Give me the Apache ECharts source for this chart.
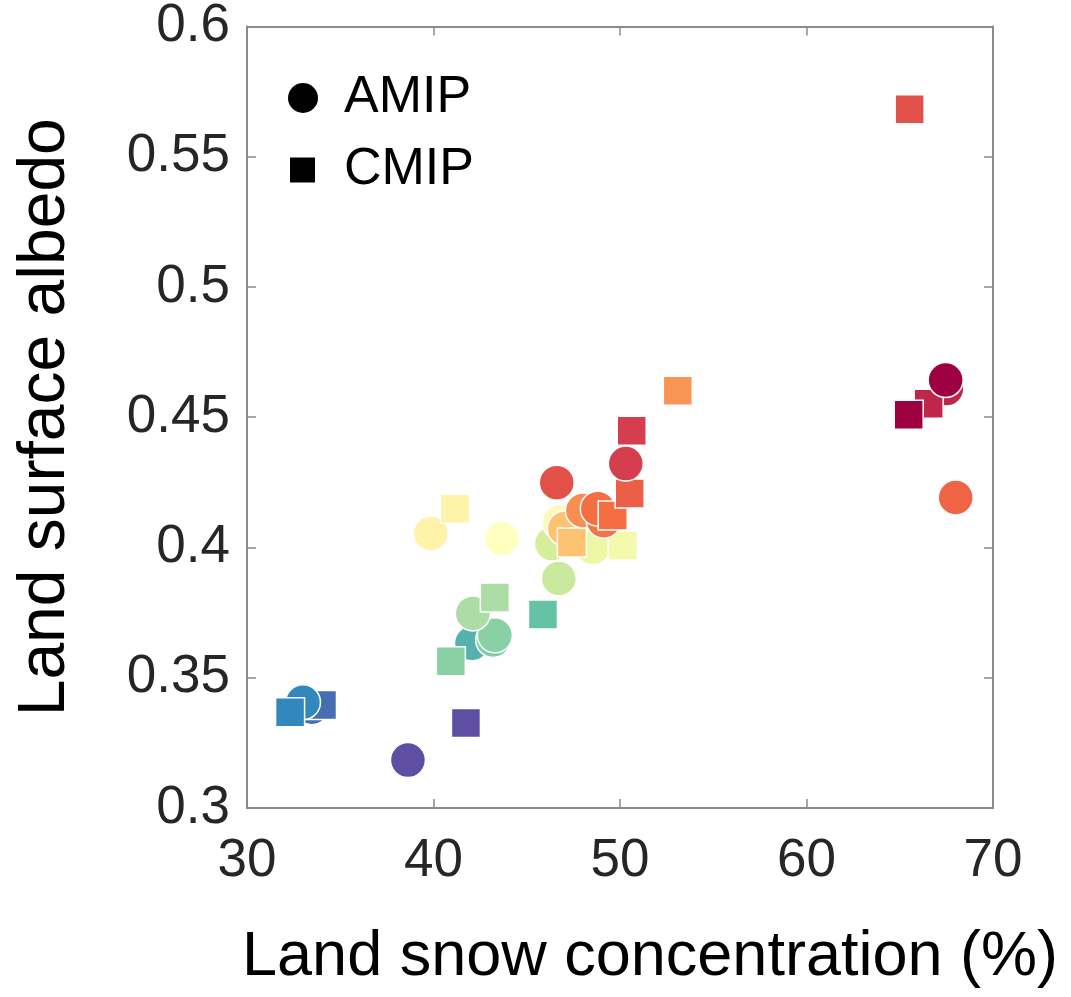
<!DOCTYPE html>
<html>
<head>
<meta charset="utf-8">
<script src="https://cdn.jsdelivr.net/npm/echarts@6/dist/echarts.min.js"></script>
<style>
  html, body { margin: 0; padding: 0; background: #ffffff; }
  #chart { width: 1071px; height: 997px; }
</style>
</head>
<body>
<div id="chart"></div>
<script>
// Axis ticks
const xTicks = [30, 40, 50, 60, 70];
const yTicks = [0.3, 0.35, 0.4, 0.45, 0.5, 0.55, 0.6];

// AMIP runs: snow concentration (%), albedo, position on the Spectral colour scale (0..10)
const amipX    = [38.63, 33.00, 33.48, 42.11, 43.29, 42.06, 43.20, 39.86, 43.67, 46.61, 50.31, 48.01, 48.81, 49.13, 47.04, 46.35, 48.54, 46.72, 67.46, 68.00, 67.50, 46.77];
const amipY    = [0.3184, 0.3406, 0.3387, 0.3747, 0.3663, 0.3632, 0.3645, 0.4054, 0.4034, 0.4249, 0.4322, 0.4142, 0.4149, 0.4103, 0.4073, 0.4015, 0.4000, 0.3881, 0.4643, 0.4192, 0.4610, 0.4096];
const amipRank = [0, 1, 0.55, 3, 2.5, 1.7, 2.4, 5.4, 5, 8.6, 9, 7.5, 8, 7.9, 6.6, 3.7, 4.3, 3.5, 10, 8.2, 9.4, 5.2];

// CMIP runs
const cmipX    = [32.31, 34.02, 41.74, 40.93, 43.29, 45.87, 41.15, 47.42, 50.15, 49.61, 50.52, 50.63, 53.10, 65.53, 65.48, 66.55];
const cmipY    = [0.3368, 0.3395, 0.3326, 0.3563, 0.3808, 0.3743, 0.4149, 0.4019, 0.4008, 0.4123, 0.4207, 0.4448, 0.4602, 0.5682, 0.4510, 0.4552];
const cmipRank = [1, 0.55, 0, 2.5, 3, 2, 5.4, 6.6, 4.5, 8, 8.3, 9, 7.4, 8.6, 10, 9.4];

// Spectral colour ramp, low to high
const spectral = ['#5e4fa2', '#3288bd', '#66c2a5', '#abdda4', '#e6f598', '#ffffbf',
                  '#fee08b', '#fdae61', '#f46d43', '#d53e4f', '#9e0142'];

const font = "'Liberation Sans', Arial, Helvetica, sans-serif";
const frameColor = '#8a8a8a';

// Stack the markers by colour rank so warmer models sit on top; circles go under squares of the same rank.
const items = [];
amipX.forEach((x, i) => items.push({ name: 'AMIP', shape: 'circle', size: 35, x, y: amipY[i], r: amipRank[i], k: 0 }));
cmipX.forEach((x, i) => items.push({ name: 'CMIP', shape: 'rect', size: 29, x, y: cmipY[i], r: cmipRank[i], k: 1 }));
items.sort((a, b) => (a.r - b.r) || (a.k - b.k));

const series = items.map(it => ({
  name: it.name,
  type: 'scatter',
  symbol: it.shape,
  symbolSize: it.size,
  xAxisIndex: 0,
  yAxisIndex: 0,
  itemStyle: { borderColor: '#ffffff', borderWidth: 1.5, opacity: 1 },
  emphasis: { disabled: true },
  data: [[it.x, it.y, it.r]]
}));

const xMin = xTicks[0], xMax = xTicks[xTicks.length - 1], xStep = xTicks[1] - xTicks[0];
const yMin = yTicks[0], yMax = yTicks[yTicks.length - 1], yStep = +(yTicks[1] - yTicks[0]).toFixed(2);

const baseAxis = {
  axisLine: { show: true, lineStyle: { color: frameColor, width: 2 } },
  axisTick: { show: true, inside: true, length: 9, lineStyle: { color: frameColor, width: 1.5 } },
  splitLine: { show: false }
};

const option = {
  backgroundColor: '#ffffff',
  animation: false,
  grid: { left: 247, right: 78, top: 25, bottom: 189 },
  visualMap: {
    show: false,
    type: 'continuous',
    dimension: 2,
    min: 0,
    max: 10,
    inRange: { color: spectral }
  },
  legend: [
    {
      data: [{ name: 'AMIP', icon: 'circle', itemStyle: { color: '#000000', borderWidth: 0 } }],
      left: 283, top: 67,
      itemWidth: 30, itemHeight: 30,
      selectedMode: false,
      textStyle: { fontSize: 52, fontFamily: font, color: '#000000', padding: [0, 0, 0, 21] }
    },
    {
      data: [{ name: 'CMIP', icon: 'rect', itemStyle: { color: '#000000', borderWidth: 0 } }],
      left: 285, top: 139,
      itemWidth: 25, itemHeight: 25,
      selectedMode: false,
      textStyle: { fontSize: 52, fontFamily: font, color: '#000000', padding: [0, 0, 0, 24] }
    }
  ],
  xAxis: [
    Object.assign({}, baseAxis, {
      type: 'value', position: 'bottom', min: xMin, max: xMax, interval: xStep,
      name: 'Land snow concentration (%)',
      nameLocation: 'middle', nameGap: 118,
      nameTextStyle: { fontSize: 63, fontFamily: font, color: '#000000', padding: [0, 0, 0, 60] },
      axisLabel: { margin: 27, fontSize: 53, fontFamily: font, color: '#262626' }
    }),
    Object.assign({}, baseAxis, {
      type: 'value', position: 'top', min: xMin, max: xMax, interval: xStep,
      axisLabel: { show: false }
    })
  ],
  yAxis: [
    Object.assign({}, baseAxis, {
      type: 'value', position: 'left', min: yMin, max: yMax, interval: yStep,
      name: 'Land surface albedo',
      nameLocation: 'middle', nameGap: 168,
      nameTextStyle: { fontSize: 66, fontFamily: font, color: '#000000' },
      axisLabel: {
        margin: 17, fontSize: 53, fontFamily: font, color: '#262626',
        formatter: v => String(+v.toFixed(2))
      }
    }),
    Object.assign({}, baseAxis, {
      type: 'value', position: 'right', min: yMin, max: yMax, interval: yStep,
      axisLabel: { show: false }
    })
  ],
  series
};

const chart = echarts.init(document.getElementById('chart'), null, { renderer: 'canvas' });
chart.setOption(option);
</script>
</body>
</html>
